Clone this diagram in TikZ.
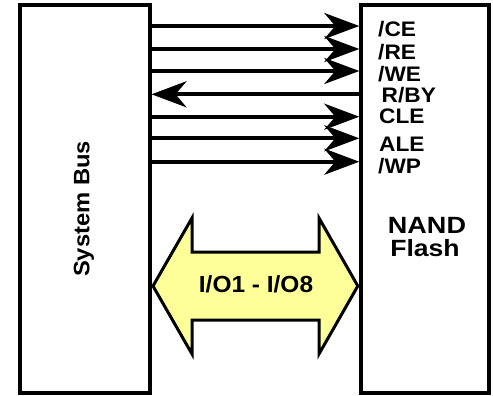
\documentclass[tikz,border=0pt]{standalone}
\usepackage{graphicx}
\usepackage{fontspec}
\setmainfont{Liberation Sans}
\usetikzlibrary{arrows.meta}
\definecolor{ioyellow}{RGB}{255,255,153}
\tikzset{
  box/.style={draw, line width=4pt, rectangle, inner sep=0pt,
    minimum width=#1, minimum height=387.2pt},
  sig/.style={line width=4pt, -{Stealth[length=35pt,width=26pt,inset=11pt]}},
  lbl/.style={font=\fontsize{21}{21}\selectfont\bfseries, anchor=base west, inner sep=0pt},
  big/.style={font=\fontsize{23.5}{23.5}\selectfont\bfseries, anchor=base, inner sep=0pt},
  bigarrow/.style={draw, line width=3pt, fill=ioyellow, line join=miter, miter limit=10}
}
\newcommand{\wx}[2][1.08]{\scalebox{#1}[1]{#2}}
\begin{document}
\begin{tikzpicture}[x=1pt, y=-1pt]
\useasboundingbox (0,0) rectangle (493,396);
% boxes
\node[box=130pt] (bus) at (84.5,198.9) {};
\node[box=127.2pt] (nand) at (424.9,198.9) {};
% box labels
\node[big, rotate=90, font=\fontsize{22.3}{22.3}\selectfont\bfseries] (buslbl) at (89.3,209) {\wx[1.065]{System Bus}};
\node[big] (nand1) at (427,233.3) {\wx[1.15]{NAND}};
\node[big] (nand2) at (425,256.7) {\wx[1.13]{Flash}};
% signal rows
\coordinate (r1) at (0,26);
\coordinate (r2) at (0,49);
\coordinate (r3) at (0,71);
\coordinate (r4) at (0,94.3);
\coordinate (r5) at (0,116.7);
\coordinate (r6) at (0,138.3);
\coordinate (r7) at (0,161.7);
\draw[sig] (bus.east |- r1) -- (nand.west |- r1);
\draw[sig] (bus.east |- r2) -- (nand.west |- r2);
\draw[sig] (bus.east |- r3) -- (nand.west |- r3);
\draw[sig] (nand.west |- r4) -- (bus.east |- r4);
\draw[sig] (bus.east |- r5) -- (nand.west |- r5);
\draw[sig] (bus.east |- r6) -- (nand.west |- r6);
\draw[sig] (bus.east |- r7) -- (nand.west |- r7);
% signal labels
\node[lbl] (ce) at (378,36.5) {\wx{/CE}};
\node[lbl] (re) at (378,59.5) {\wx{/RE}};
\node[lbl] (we) at (378,81.7) {\wx{/WE}};
\node[lbl] (rby) at (381.5,102.5) {\wx{R/BY}};
\node[lbl] (cle) at (379,124) {\wx{CLE}};
\node[lbl] (ale) at (379,151.7) {\wx{ALE}};
\node[lbl] (wp) at (378,173.3) {\wx{/WP}};
% data bus double arrow
\coordinate (io) at (0,286);
\coordinate (ioL) at ([xshift=1.5pt]bus.east |- io);
\coordinate (ioR) at ([xshift=-1.5pt]nand.west |- io);
\draw[bigarrow] (ioL) -- (192,218) -- (192,252) -- (319,252) -- (319,218) -- (ioR)
  -- (319,354) -- (319,320) -- (192,320) -- (192,354) -- cycle;
\node[big, font=\fontsize{23.3}{23.3}\selectfont\bfseries] (iolbl) at (256,292.7) {\wx[1.05]{I/O1 - I/O8}};
\end{tikzpicture}
\end{document}
